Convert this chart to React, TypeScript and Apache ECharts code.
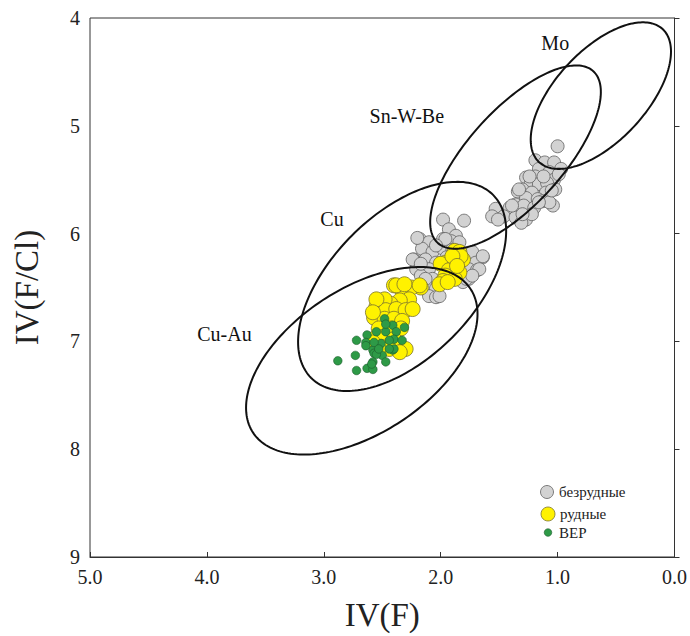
import React, { useEffect, useRef } from "react";
import * as echarts from "echarts";

// ---- data ----
const barrenPoints: [number, number][] = [
  [1.00,5.19],[1.19,5.32],[1.11,5.34],[1.03,5.34],[0.97,5.40],[1.16,5.40],[1.07,5.43],[1.27,5.48],[1.19,5.47],[1.03,5.50],
  [1.23,5.54],[1.16,5.54],[1.09,5.53],[1.30,5.59],[1.34,5.61],[1.22,5.62],[1.10,5.62],[1.02,5.59],[1.27,5.67],[1.17,5.68],
  [1.36,5.73],[1.29,5.74],[1.20,5.76],[1.04,5.74],[1.41,5.76],[1.53,5.77],[1.56,5.84],[1.46,5.84],[1.36,5.85],[1.27,5.87],
  [1.31,5.90],[1.22,5.82],[1.13,5.70],[1.51,5.87],[0.99,5.45],[1.24,5.47],[1.33,5.59],[1.07,5.71],[1.39,5.74],[1.16,5.71],
  [1.30,5.82],[1.12,5.47],[1.05,5.60],
  [1.98,5.87],[1.80,5.88],[1.93,5.96],[1.87,6.02],[2.18,6.05],[2.10,6.08],[1.98,6.05],[1.91,6.07],[2.16,6.14],[2.07,6.17],
  [1.98,6.14],[1.84,6.08],[1.73,6.17],[1.64,6.22],[2.23,6.24],[2.13,6.24],[2.04,6.27],[1.70,6.27],[2.21,6.33],[2.10,6.33],
  [1.76,6.33],[1.69,6.34],[2.17,6.39],[2.07,6.42],[1.76,6.42],[2.13,6.48],[2.04,6.51],[2.10,6.58],[2.04,6.59],[1.81,6.45],
  [2.20,6.04],[1.96,6.05],[2.04,6.11],[2.24,6.24],[2.17,6.28],[1.67,6.33],[1.78,6.42],[2.01,6.58],[2.13,6.42],[1.64,6.21],
  [1.73,6.39],[1.90,6.15],[1.95,6.22],[1.85,6.25]
];

const orePoints: [number, number][] = [
  [1.88,6.16],[1.84,6.17],[1.81,6.24],[1.96,6.27],[1.87,6.27],[2.00,6.28],[1.93,6.34],[1.84,6.36],[1.96,6.39],[1.88,6.42],
  [1.98,6.44],[2.01,6.47],[1.94,6.45],[1.83,6.21],[1.90,6.21],[1.86,6.30],
  [2.17,6.50],[2.25,6.50],[2.34,6.51],[2.40,6.48],[2.27,6.61],[2.35,6.62],[2.43,6.65],[2.48,6.61],[2.55,6.68],[2.47,6.71],
  [2.38,6.70],[2.30,6.71],[2.24,6.70],[2.57,6.78],[2.48,6.79],[2.40,6.79],[2.33,6.81],[2.53,6.88],[2.43,6.88],[2.34,6.88],
  [2.58,6.98],[2.50,6.96],[2.40,6.98],[2.30,7.07],[2.51,7.05],[2.44,7.07],[2.35,7.10],[2.38,6.48],[2.31,6.47],[2.18,6.48],
  [2.55,6.61],[2.58,6.73],[2.58,7.01],[2.53,7.07]
];

const bepPoints: [number, number][] = [
  [2.88,7.18],[2.73,7.13],[2.72,6.99],[2.72,7.27],[2.63,7.25],[2.58,7.26],[2.63,6.94],[2.64,7.01],[2.55,6.91],[2.48,6.79],
  [2.41,6.85],[2.31,6.87],[2.47,6.91],[2.38,6.91],[2.40,6.98],[2.33,6.99],[2.44,6.99],[2.51,7.02],[2.58,7.08],[2.57,7.11],
  [2.50,7.13],[2.41,7.08],[2.58,7.19],[2.47,7.19],[2.40,7.07],[2.64,7.04],[2.47,6.84],[2.57,7.01],[2.55,7.12],[2.44,7.07],
  [2.59,7.21],[2.53,7.07]
];

// fields: ellipses (center, half extents, correlation) and their labels
const ellipseNames = ["Mo", "Sn-W-Be", "Cu", "Cu-Au"];
const ellipseCenterX = [0.63, 1.36, 2.33, 2.675];
const ellipseCenterY = [4.72, 5.29, 6.49, 7.18];
const ellipseHalfX = [0.60, 0.73, 0.89, 0.99];
const ellipseHalfY = [0.68, 0.85, 0.97, 0.87];
const ellipseCorr = [0.60, 0.71, 0.53, 0.50];
const ellipseLabelX = [1.02, 2.29, 2.93, 3.85];
const ellipseLabelY = [4.23, 4.91, 5.86, 6.93];

const xTicks = [0, 1, 2, 3, 4, 5];
const yTicks = [4, 5, 6, 7, 8, 9];
const seriesNames = ["безрудные", "рудные", "BEP"];

const FONT = "Liberation Serif";

export default function App() {
  const ref = useRef<HTMLDivElement>(null);
  useEffect(() => {
    if (!ref.current) return;
    const chart = echarts.init(ref.current, null, { renderer: "svg" });
    const ellipseData = ellipseNames.map((n, i) => [
      ellipseCenterX[i], ellipseCenterY[i], ellipseHalfX[i], ellipseHalfY[i], ellipseCorr[i],
      ellipseLabelX[i], ellipseLabelY[i],
    ]);
    const option: any = {
      animation: false,
      backgroundColor: "#ffffff",
      textStyle: { fontFamily: FONT },
      grid: { left: 90, right: 14, top: 18, bottom: 77, show: true, borderColor: "#333", borderWidth: 1, backgroundColor: "transparent" },
      xAxis: {
        type: "value", min: xTicks[0], max: xTicks[xTicks.length - 1], interval: 1, inverse: true,
        axisLine: { show: true, lineStyle: { color: "#333", width: 1 } },
        axisTick: { show: true, inside: true, length: 5, lineStyle: { color: "#333" } },
        splitLine: { show: false },
        axisLabel: { fontFamily: FONT, fontSize: 20, color: "#222", margin: 10, formatter: (v: number) => v.toFixed(1) },
        name: "IV(F)", nameLocation: "middle", nameGap: 41,
        nameTextStyle: { fontFamily: FONT, fontSize: 33, color: "#222" },
      },
      yAxis: {
        type: "value", min: yTicks[0], max: yTicks[yTicks.length - 1], interval: 1, inverse: true,
        axisLine: { show: true, lineStyle: { color: "#333", width: 1 } },
        axisTick: { show: true, inside: true, length: 5, lineStyle: { color: "#333" } },
        splitLine: { show: false },
        axisLabel: { fontFamily: FONT, fontSize: 20, color: "#222", margin: 10 },
        name: "IV(F/Cl)", nameLocation: "middle", nameGap: 47,
        nameTextStyle: { fontFamily: FONT, fontSize: 33, color: "#222" },
      },
      series: [
        {
          name: seriesNames[0], type: "scatter", data: barrenPoints, symbol: "circle", symbolSize: 13,
          itemStyle: { color: "#d2d2d2", borderColor: "#606060", borderWidth: 0.8, opacity: 1 }, z: 2,
        },
        {
          name: seriesNames[1], type: "scatter", data: orePoints, symbol: "circle", symbolSize: 15,
          itemStyle: { color: "#fff200", borderColor: "#7a7230", borderWidth: 0.8, opacity: 1 }, z: 3,
        },
        {
          name: seriesNames[2], type: "scatter", data: bepPoints, symbol: "circle", symbolSize: 8.5,
          itemStyle: { color: "#2e9a47", borderColor: "#1d5a2c", borderWidth: 0.6, opacity: 1 }, z: 4,
        },
        {
          type: "custom", silent: true, z: 5, data: ellipseData,
          renderItem: (params: any, api: any) => {
            const cx = api.value(0), cy = api.value(1), hx = api.value(2), hy = api.value(3), rho = api.value(4);
            const lx = api.value(5), ly = api.value(6);
            const d = Math.acos(rho);
            const pts: number[][] = [];
            const N = 200;
            for (let i = 0; i <= N; i++) {
              const t = (i / N) * Math.PI * 2;
              pts.push(api.coord([cx + hx * Math.cos(t), cy + hy * Math.cos(t - d)]));
            }
            const lp = api.coord([lx, ly]);
            return {
              type: "group",
              children: [
                { type: "polygon", shape: { points: pts }, style: { fill: "none", stroke: "#111", lineWidth: 2 } },
                {
                  type: "text", x: lp[0], y: lp[1],
                  style: { text: ellipseNames[params.dataIndex], fill: "#111", font: "20px Liberation Serif", align: "center", verticalAlign: "middle" },
                },
              ],
            };
          },
        },
      ],
      graphic: [
        { type: "circle", shape: { cx: 547, cy: 492, r: 6.5 }, style: { fill: "#d2d2d2", stroke: "#606060", lineWidth: 0.8 } },
        { type: "text", x: 559, y: 492, style: { text: seriesNames[0], fill: "#222", font: "15px Liberation Serif", verticalAlign: "middle" } },
        { type: "circle", shape: { cx: 548, cy: 514, r: 7 }, style: { fill: "#fff200", stroke: "#7a7230", lineWidth: 0.8 } },
        { type: "text", x: 560, y: 514, style: { text: seriesNames[1], fill: "#222", font: "15px Liberation Serif", verticalAlign: "middle" } },
        { type: "circle", shape: { cx: 548, cy: 532.5, r: 3.8 }, style: { fill: "#2e9a47", stroke: "#1d5a2c", lineWidth: 0.6 } },
        { type: "text", x: 559, y: 532.5, style: { text: seriesNames[2], fill: "#222", font: "15px Liberation Serif", verticalAlign: "middle" } },
      ],
    };
    chart.setOption(option);
    return () => chart.dispose();
  }, []);
  return <div ref={ref} style={{ position: "absolute", left: 0, top: 0, width: 690, height: 636 }} />;
}
